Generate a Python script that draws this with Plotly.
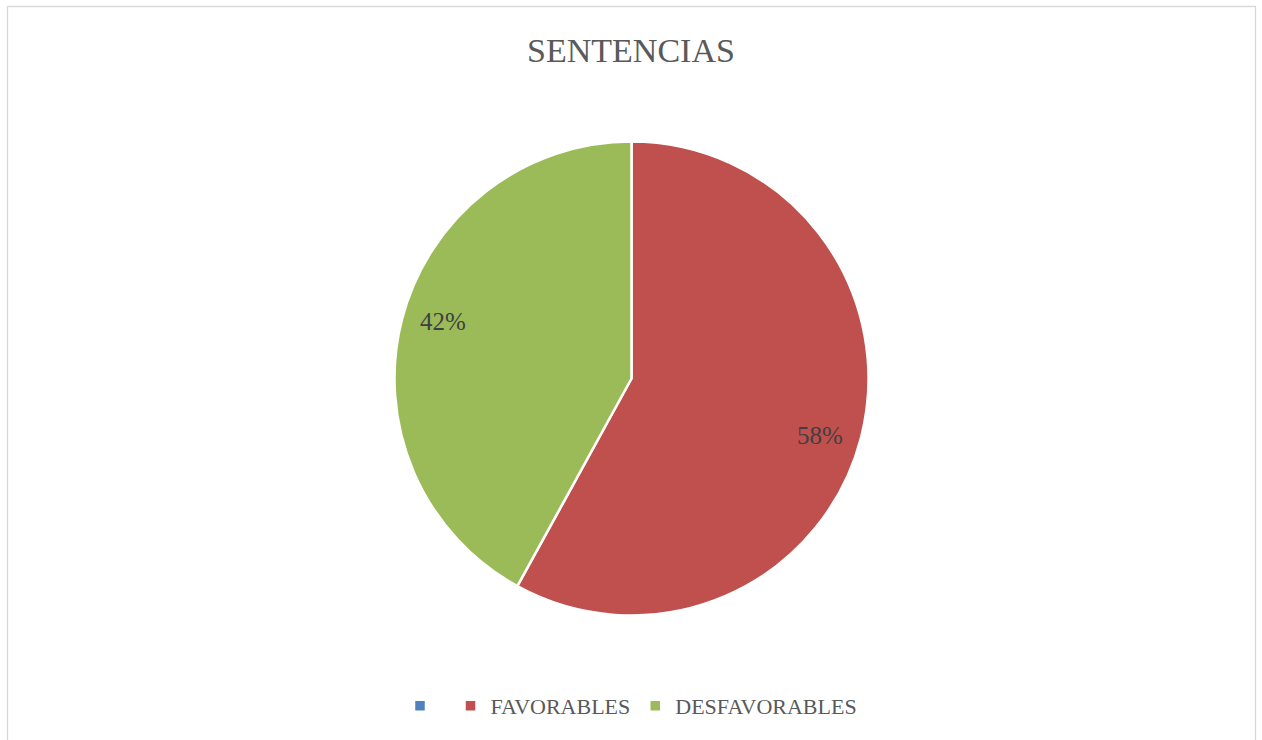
import math
import plotly.graph_objects as go

labels = [" ", "FAVORABLES", "DESFAVORABLES"]
values = [0, 58, 42]
colors = ["#4F81BD", "#C0504D", "#9BBB59"]
title_text = "SENTENCIAS"

W, H = 1262, 740
cx, cy, r = 631.5, 378.5, 237

fig = go.Figure(go.Pie(
    labels=labels,
    values=values,
    marker=dict(colors=colors, line=dict(color="white", width=2.5)),
    sort=False,
    direction="clockwise",
    rotation=0,
    textinfo="none",
    hoverinfo="label+percent",
    domain=dict(x=[(cx - r) / W, (cx + r) / W], y=[1 - (cy + r) / H, 1 - (cy - r) / H]),
))

# percentage labels placed near each slice's bisector (derived from values)
total = sum(values)
annotations = []
acc = 0.0
for v in values:
    if v > 0:
        mid = (acc + v / 2) / total * 2 * math.pi + math.radians(2.5)
        rr = 0.83 * r
        px = cx + rr * math.sin(mid)
        py = cy - rr * math.cos(mid)
        annotations.append(dict(
            x=px / W, y=1 - py / H, xref="paper", yref="paper", showarrow=False,
            text=f"{round(v / total * 100)}%",
            font=dict(family="Liberation Serif", size=25, color="#404040"),
            xanchor="center", yanchor="middle"))
    acc += v

fig.update_layout(
    width=W, height=H,
    margin=dict(l=0, r=0, t=0, b=0),
    paper_bgcolor="white",
    title=dict(text=title_text, x=0.5, xanchor="center", y=1 - 50 / H, yanchor="middle",
               font=dict(family="Liberation Serif", size=34, color="#595959")),
    legend=dict(orientation="h", x=0.5, xanchor="center", y=1 - 706 / H, yanchor="middle",
                font=dict(family="Liberation Serif", size=22, color="#595959"),
                itemwidth=30, traceorder="normal"),
    annotations=annotations,
    shapes=[dict(type="rect", xref="paper", yref="paper", x0=7.5 / W, x1=1255.5 / W,
                 y0=-0.01, y1=1 - 6.5 / H, line=dict(color="#D9D9D9", width=1.3))],
)

fig.write_html("out.html", config={"displayModeBar": False},
               post_script="document.body.style.margin='0';")
